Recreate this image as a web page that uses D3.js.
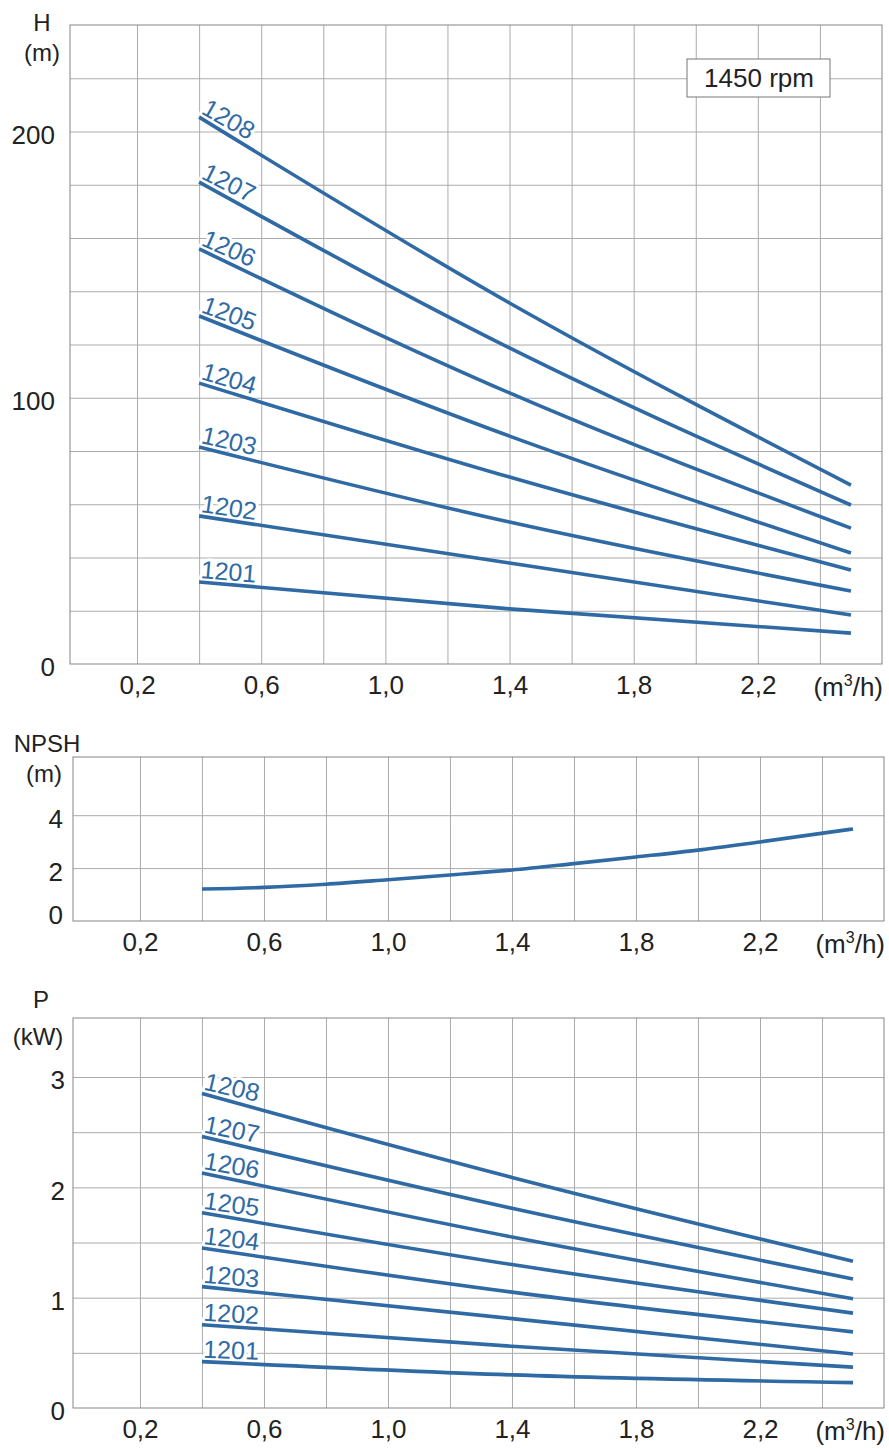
<!DOCTYPE html>
<html>
<head>
<meta charset="utf-8">
<script src="https://cdn.jsdelivr.net/npm/d3@7"></script>
<style>
    body { margin: 0; background: #fff; }
    svg { display: block; font-family: 'Liberation Sans', Arial, sans-serif; }
</style>
</head>
<body>
<div id="chart"></div>
<script>
// pump models, one curve each
const pumps = ['1201', '1202', '1203', '1204', '1205', '1206', '1207', '1208'];

// head curves H (m) read at these flows (m3/h)
const headFlow = [0.4, 1.4, 2.5];
const headValues = [
    [30.8, 20.7, 11.6],
    [55.6, 37.9, 18.4],
    [81.5, 53.3, 27.4],
    [105.5, 70.2, 35.3],
    [130.7, 85.6, 41.7],
    [155.9, 101.8, 51.0],
    [181.0, 118.7, 59.7],
    [205.4, 135.6, 67.2]
];

// NPSH curve (m)
const npshFlow = [0.4, 0.6, 0.8, 1.0, 1.2, 1.4, 1.6, 1.8, 2.0, 2.2, 2.5];
const npshValues = [1.21, 1.27, 1.39, 1.56, 1.74, 1.93, 2.17, 2.42, 2.68, 2.99, 3.48];

// power curves P (kW)
const powerFlow = [0.4, 1.4, 2.5];
const powerValues = [
    [0.42, 0.30, 0.23],
    [0.755, 0.56, 0.37],
    [1.10, 0.81, 0.49],
    [1.45, 1.05, 0.69],
    [1.77, 1.30, 0.86],
    [2.13, 1.55, 0.99],
    [2.46, 1.81, 1.17],
    [2.85, 2.09, 1.33]
];

// tick labels
const flowTicks = [0.2, 0.6, 1.0, 1.4, 1.8, 2.2];
const headTicks = [0, 100, 200];
const npshTicks = [0, 2, 4];
const powerTicks = [0, 1, 2, 3];

const config = {
    width: 889,
    height: 1448,
    fontSize: 26,
    titleSize: 24,
    labelSize: 25,
    lineColor: '#2f6aa5',
    gridColor: '#ababab',
    frameColor: '#858585',
    textColor: '#222',
    xDomain: [-0.016, 2.6],
    gridX: d3.range(1, 13).map(i => i * 0.2)
};

const svg = d3.select('#chart').append('svg')
    .attr('width', config.width)
    .attr('height', config.height);

svg.append('rect')
    .attr('width', config.width)
    .attr('height', config.height)
    .attr('fill', '#fff');

const commaFormat = d => d3.format('.1f')(d).replace('.', ',');

const makePanel = (box, yDomain, gridY, yTicks, yPadding) => {
    const x = d3.scaleLinear().domain(config.xDomain).range([box.left, box.right]);
    const y = d3.scaleLinear().domain(yDomain).range([box.bottom, box.top]);
    const g = svg.append('g');

    // grid
    g.append('g')
            .attr('transform', 'translate(0,' + box.bottom + ')')
            .call(d3.axisBottom(x).tickValues(config.gridX)
                .tickSize(-(box.bottom - box.top)).tickFormat(''))
            .call(a => a.select('.domain').remove())
        .selectAll('line')
            .attr('stroke', config.gridColor);
    g.append('g')
            .attr('transform', 'translate(' + box.left + ',0)')
            .call(d3.axisLeft(y).tickValues(gridY)
                .tickSize(-(box.right - box.left)).tickFormat(''))
            .call(a => a.select('.domain').remove())
        .selectAll('line')
            .attr('stroke', config.gridColor);

    // frame
    g.append('rect')
        .attr('x', box.left)
        .attr('y', box.top)
        .attr('width', box.right - box.left)
        .attr('height', box.bottom - box.top)
        .attr('fill', 'none')
        .attr('stroke', config.frameColor);

    // x axis labels
    g.append('g')
            .attr('transform', 'translate(0,' + box.bottom + ')')
            .call(d3.axisBottom(x).tickValues(flowTicks).tickSize(0)
                .tickPadding(12).tickFormat(commaFormat))
            .call(a => a.select('.domain').remove())
        .selectAll('text')
            .attr('font-size', config.fontSize)
            .attr('font-family', null)
            .attr('fill', config.textColor);

    // y axis labels
    g.append('g')
            .attr('class', 'y-labels')
            .attr('transform', 'translate(' + box.left + ',0)')
            .call(d3.axisLeft(y).tickValues(yTicks).tickSize(0)
                .tickPadding(yPadding).tickFormat(d3.format('d')))
            .call(a => a.select('.domain').remove())
        .selectAll('text')
            .attr('dy', '0.46em')
            .attr('font-size', config.fontSize)
            .attr('font-family', null)
            .attr('fill', config.textColor);

    // unit of flow
    const unit = g.append('text')
        .attr('x', box.right + 1)
        .attr('y', box.bottom + 32)
        .attr('text-anchor', 'end')
        .attr('font-size', config.fontSize)
        .attr('fill', config.textColor);
    unit.append('tspan').text('(m');
    unit.append('tspan').attr('dy', -10).attr('font-size', 16).text('3');
    unit.append('tspan').attr('dy', 10).text('/h)');

    return { g, x, y };
};

const addTitle = (lines) => {
    lines.forEach(l => {
        svg.append('text')
            .attr('x', l.x)
            .attr('y', l.y)
            .attr('text-anchor', 'middle')
            .attr('font-size', config.titleSize)
            .attr('fill', config.textColor)
            .text(l.text);
    });
};

const drawCurves = (panel, flow, values, labelFactor) => {
    const { g, x, y } = panel;
    const line = d3.line()
        .x(d => x(d[0]))
        .y(d => y(d[1]))
        .curve(d3.curveMonotoneX);

    // model labels, under the curves, with a white knockout over the grid
    values.forEach((v, i) => {
        const x0 = x(flow[0]), y0 = y(v[0]);
        const angle = Math.atan2(y(v[1]) - y0, x(flow[1]) - x0) * 180 / Math.PI * labelFactor;
        g.append('text')
            .attr('transform', 'translate(' + (x0 + 1) + ',' + (y0 - 4) + ') rotate(' + angle + ')')
            .attr('font-size', config.labelSize)
            .attr('fill', config.lineColor)
            .attr('stroke', '#fff')
            .attr('stroke-width', 6)
            .attr('stroke-linejoin', 'round')
            .attr('paint-order', 'stroke')
            .text(pumps[i]);
    });

    values.forEach(v => {
        g.append('path')
            .datum(flow.map((q, j) => [q, v[j]]))
            .attr('d', line)
            .attr('fill', 'none')
            .attr('stroke', config.lineColor)
            .attr('stroke-width', 3.6);
    });
};

// H panel
const headPanel = makePanel({ left: 70, right: 882, top: 25, bottom: 664 },
    [0, 240], d3.range(1, 12).map(i => i * 20), headTicks, 15);
addTitle([{ x: 42, y: 31, text: 'H' }, { x: 42, y: 61, text: '(m)' }]);
drawCurves(headPanel, headFlow, headValues, 0.95);

// speed box
svg.append('rect')
    .attr('x', 687).attr('y', 59)
    .attr('width', 143).attr('height', 38)
    .attr('fill', '#fff')
    .attr('stroke', '#777');
svg.append('text')
    .attr('x', 759).attr('y', 87)
    .attr('text-anchor', 'middle')
    .attr('font-size', config.fontSize)
    .attr('fill', config.textColor)
    .text('1450 rpm');

// NPSH panel
const npshPanel = makePanel({ left: 73, right: 884, top: 757, bottom: 921 },
    [0, 6.2], [2, 4], npshTicks, 10);
npshPanel.g.selectAll('.y-labels .tick text').filter(d => d === 0).attr('dy', '0.1em');
addTitle([{ x: 47, y: 752, text: 'NPSH' }, { x: 44, y: 782, text: '(m)' }]);
npshPanel.g.append('path')
    .datum(npshFlow.map((q, j) => [q, npshValues[j]]))
    .attr('d', d3.line()
        .x(d => npshPanel.x(d[0]))
        .y(d => npshPanel.y(d[1]))
        .curve(d3.curveMonotoneX))
    .attr('fill', 'none')
    .attr('stroke', config.lineColor)
    .attr('stroke-width', 3.6);

// P panel
const powerPanel = makePanel({ left: 73, right: 884, top: 1018, bottom: 1408 },
    [0, 3.535], d3.range(1, 7).map(i => i * 0.5), powerTicks, 8);
addTitle([{ x: 41, y: 1008, text: 'P' }, { x: 38, y: 1045, text: '(kW)' }]);
drawCurves(powerPanel, powerFlow, powerValues, 0.85);
</script>
</body>
</html>
